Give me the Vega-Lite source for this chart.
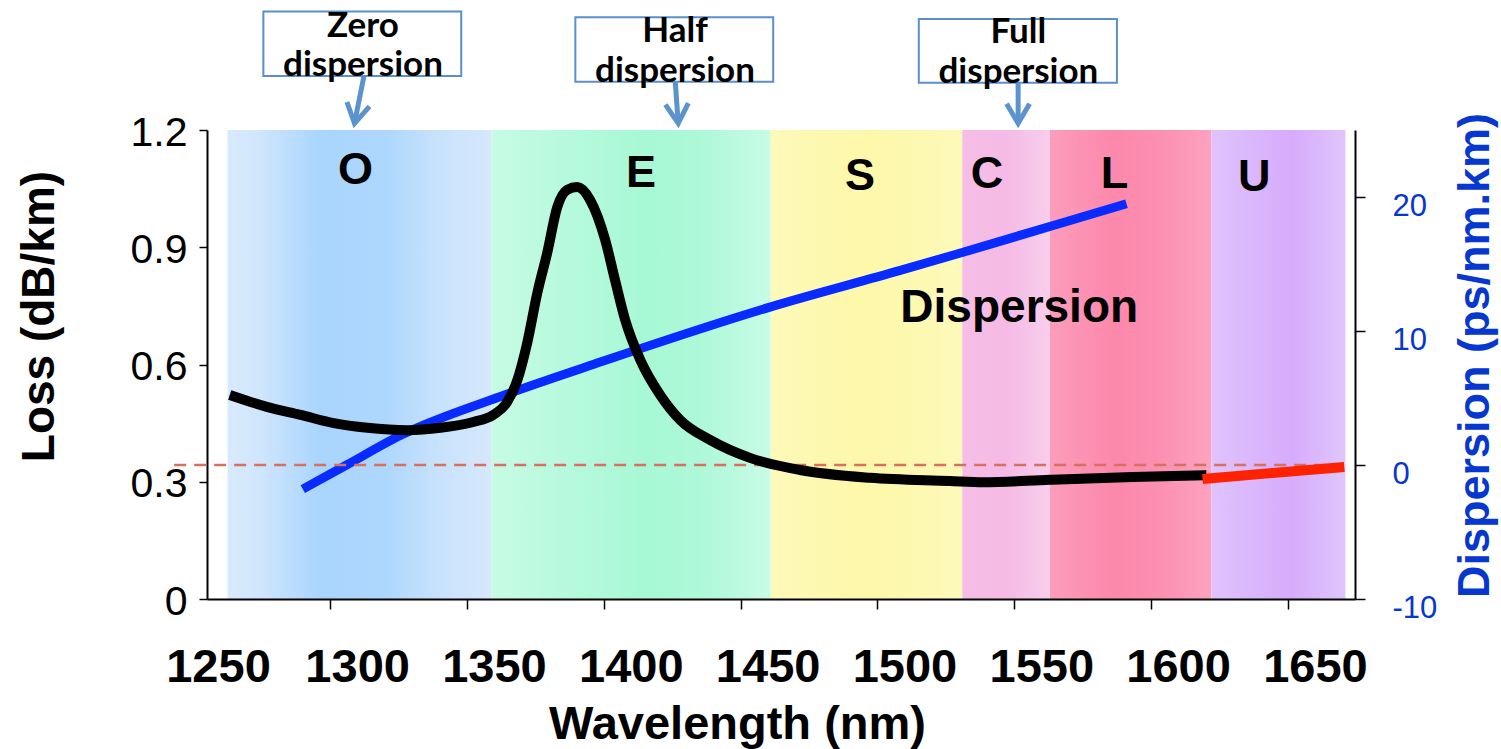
{
  "$schema": "https://vega.github.io/schema/vega-lite/v6.json",
  "width": 1148,
  "height": 469,
  "autosize": {"type": "none"},
  "padding": {"left": 207, "top": 130, "right": 146, "bottom": 150},
  "background": "white",
  "config": {"view": {"stroke": null}, "font": "Liberation Sans"},
  "datasets": {
    "bands": [
      {"band": "O", "start": 1262.5, "end": 1359},
      {"band": "E", "start": 1359, "end": 1461},
      {"band": "S", "start": 1461, "end": 1531},
      {"band": "C", "start": 1531, "end": 1563},
      {"band": "L", "start": 1563, "end": 1622},
      {"band": "U", "start": 1622, "end": 1671}
    ],
    "loss": [
      {"nm": 1263.3, "loss": 0.522}, {"nm": 1277.2, "loss": 0.491}, {"nm": 1289.2, "loss": 0.471},
      {"nm": 1301.3, "loss": 0.45}, {"nm": 1313.6, "loss": 0.438}, {"nm": 1328.2, "loss": 0.432},
      {"nm": 1340.3, "loss": 0.438}, {"nm": 1352.3, "loss": 0.453}, {"nm": 1359.6, "loss": 0.471},
      {"nm": 1364.7, "loss": 0.504}, {"nm": 1368.4, "loss": 0.56}, {"nm": 1372.0, "loss": 0.655},
      {"nm": 1375.7, "loss": 0.783}, {"nm": 1379.3, "loss": 0.885}, {"nm": 1383.0, "loss": 1.003},
      {"nm": 1386.6, "loss": 1.047}, {"nm": 1390.3, "loss": 1.054}, {"nm": 1395.0, "loss": 1.021},
      {"nm": 1400.5, "loss": 0.919}, {"nm": 1404.1, "loss": 0.816}, {"nm": 1407.8, "loss": 0.714},
      {"nm": 1413.3, "loss": 0.612}, {"nm": 1420.6, "loss": 0.522}, {"nm": 1427.9, "loss": 0.458},
      {"nm": 1438.8, "loss": 0.407}, {"nm": 1453.4, "loss": 0.361}, {"nm": 1471.7, "loss": 0.33},
      {"nm": 1497.2, "loss": 0.31}, {"nm": 1526.4, "loss": 0.302}, {"nm": 1538.5, "loss": 0.299},
      {"nm": 1563.0, "loss": 0.305}, {"nm": 1593.3, "loss": 0.312}, {"nm": 1620.2, "loss": 0.317}
    ],
    "ext": [
      {"nm": 1618.8, "loss": 0.307}, {"nm": 1670.6, "loss": 0.338}
    ],
    "disp": [
      {"nm": 1290, "d": -1.8}, {"nm": 1306, "d": 0}, {"nm": 1325.6, "d": 2.2},
      {"nm": 1362, "d": 5.1}, {"nm": 1399, "d": 7.7}, {"nm": 1461, "d": 11.8},
      {"nm": 1508, "d": 14.5}, {"nm": 1530, "d": 15.8}, {"nm": 1563, "d": 17.8},
      {"nm": 1591, "d": 19.5}
    ],
    "zero": [{"from": 1243, "to": 1668.5, "d": 0}],
    "bandLabels": [
      {"label": "O", "nm": 1309.3, "loss": 1.062},
      {"label": "E", "nm": 1413.6, "loss": 1.054},
      {"label": "S", "nm": 1493.6, "loss": 1.047},
      {"label": "C", "nm": 1540, "loss": 1.052},
      {"label": "L", "nm": 1586.6, "loss": 1.052},
      {"label": "U", "nm": 1637.7, "loss": 1.044}
    ],
    "curveLabel": [{"label": "Dispersion", "nm": 1551.8, "loss": 0.709}],
    "notes": [
      {"name": "Zero", "line1": "Zero", "line2": "dispersion", "bx1": 1275.6, "bx2": 1347.9, "by1": 1.503, "by2": 1.338, "tx": 1312, "t1": 1.439, "t2": 1.338, "ax1": 1312.3, "ay1": 1.336, "ax2": 1308.9, "ay2": 1.217},
      {"name": "Half", "line1": "Half", "line2": "dispersion", "bx1": 1389.6, "bx2": 1461.9, "by1": 1.4885, "by2": 1.3237, "tx": 1426, "t1": 1.426, "t2": 1.323, "ax1": 1426.1, "ay1": 1.324, "ax2": 1427.2, "ay2": 1.217},
      {"name": "Full", "line1": "Full", "line2": "dispersion", "bx1": 1515.1, "bx2": 1587.5, "by1": 1.484, "by2": 1.321, "tx": 1551.5, "t1": 1.422, "t2": 1.319, "ax1": 1551.4, "ay1": 1.32, "ax2": 1551.4, "ay2": 1.217}
    ]
  },
  "layer": [
    {
      "data": {"name": "bands"},
      "transform": [{"filter": "datum.band === 'O'"}],
      "mark": {"type": "rect", "fill": {"gradient": "linear", "x1": 0, "y1": 0, "x2": 1, "y2": 0, "stops": [
        {"offset": 0, "color": "#D8EAFD"}, {"offset": 0.12, "color": "#D0E6FD"}, {"offset": 0.35, "color": "#A9D5FD"},
        {"offset": 0.6, "color": "#AED7FD"}, {"offset": 0.8, "color": "#C8E2FC"}, {"offset": 1, "color": "#D6E8FC"}]}},
      "encoding": {
        "x": {"field": "start", "type": "quantitative", "scale": {"domain": [1255, 1674.5], "nice": false, "zero": false},
          "axis": {"orient": "bottom", "values": [1255, 1300, 1350, 1400, 1450, 1500, 1550, 1600, 1650], "grid": false,
            "labelExpr": "datum.value < 1260 ? '1250' : format(datum.value, 'd')",
            "domainColor": "black", "domainWidth": 2, "tickColor": "black", "tickWidth": 1.5, "tickSize": 10,
            "tickOpacity": {"condition": {"test": "datum.value < 1260", "value": 0}, "value": 1},
            "labelFont": "Liberation Sans", "labelFontSize": 47, "labelFontWeight": "bold", "labelColor": "black",
            "labelBaseline": "alphabetic", "labelPadding": 72,
            "labelOffset": {"condition": {"test": "datum.value < 1260", "value": 11}, "value": 27},
            "labelOverlap": false, "labelFlush": false, "labelBound": false,
            "title": "Wavelength (nm)", "titleFont": "Liberation Sans", "titleFontSize": 47, "titleFontWeight": "bold", "titleColor": "black",
            "titleX": 530, "titleY": 139, "titleAlign": "center", "titleBaseline": "alphabetic", "zindex": 1}},
        "x2": {"field": "end"}
      }
    },
    {
      "data": {"name": "bands"},
      "transform": [{"filter": "datum.band === 'E'"}],
      "mark": {"type": "rect", "fill": {"gradient": "linear", "x1": 0, "y1": 0, "x2": 1, "y2": 0, "stops": [
        {"offset": 0, "color": "#C6FBE4"}, {"offset": 0.55, "color": "#A7F8D5"}, {"offset": 0.75, "color": "#AEF8D8"}, {"offset": 1, "color": "#C8FBE6"}]}},
      "encoding": {
        "x": {"field": "start", "type": "quantitative", "axis": null},
        "x2": {"field": "end"}
      }
    },
    {
      "data": {"name": "bands"},
      "transform": [{"filter": "datum.band === 'S'"}],
      "mark": {"type": "rect", "fill": {"gradient": "linear", "x1": 0, "y1": 0, "x2": 1, "y2": 0, "stops": [
        {"offset": 0, "color": "#FDF9B9"}, {"offset": 0.5, "color": "#FDF8A9"}, {"offset": 1, "color": "#FDF9B9"}]}},
      "encoding": {
        "x": {"field": "start", "type": "quantitative", "axis": null},
        "x2": {"field": "end"}
      }
    },
    {
      "data": {"name": "bands"},
      "transform": [{"filter": "datum.band === 'C'"}],
      "mark": {"type": "rect", "fill": {"gradient": "linear", "x1": 0, "y1": 0, "x2": 1, "y2": 0, "stops": [
        {"offset": 0, "color": "#F5BEE6"}, {"offset": 0.5, "color": "#F5BAE5"}, {"offset": 1, "color": "#F8CEEC"}]}},
      "encoding": {
        "x": {"field": "start", "type": "quantitative", "axis": null},
        "x2": {"field": "end"}
      }
    },
    {
      "data": {"name": "bands"},
      "transform": [{"filter": "datum.band === 'L'"}],
      "mark": {"type": "rect", "fill": {"gradient": "linear", "x1": 0, "y1": 0, "x2": 1, "y2": 0, "stops": [
        {"offset": 0, "color": "#FC9DBB"}, {"offset": 0.4, "color": "#FC88AC"}, {"offset": 0.7, "color": "#FC90B2"}, {"offset": 1, "color": "#FCA3C0"}]}},
      "encoding": {
        "x": {"field": "start", "type": "quantitative", "axis": null},
        "x2": {"field": "end"}
      }
    },
    {
      "data": {"name": "bands"},
      "transform": [{"filter": "datum.band === 'U'"}],
      "mark": {"type": "rect", "fill": {"gradient": "linear", "x1": 0, "y1": 0, "x2": 1, "y2": 0, "stops": [
        {"offset": 0, "color": "#DFC3FC"}, {"offset": 0.6, "color": "#D6ABFC"}, {"offset": 1, "color": "#E0C6FC"}]}},
      "encoding": {
        "x": {"field": "start", "type": "quantitative", "axis": null},
        "x2": {"field": "end"}
      }
    },
    {
      "data": {"name": "disp"},
      "mark": {"type": "line", "color": "#0A2BFF", "strokeWidth": 9, "interpolate": "monotone", "strokeCap": "butt"},
      "encoding": {
        "x": {"field": "nm", "type": "quantitative", "axis": null},
        "y": {"field": "d", "type": "quantitative", "scale": {"domain": [-10, 25], "nice": false, "zero": false},
          "axis": {"orient": "right", "values": [-10, 0, 10, 20], "grid": false,
            "labelExpr": "datum.value < 0 ? '-' + abs(datum.value) : '' + datum.value",
            "domainColor": "black", "domainWidth": 2, "tickColor": "black", "tickWidth": 1.5, "tickSize": 10,
            "labelFont": "Liberation Sans", "labelFontSize": 31, "labelColor": "#0637CF", "labelPadding": 27, "labelOffset": 9, "labelAlign": "left",
            "title": "Dispersion (ps/nm.km)", "titleFont": "Liberation Sans", "titleFontSize": 45, "titleFontWeight": "bold", "titleColor": "#0637CF",
            "titleAngle": -90, "titleX": 133, "titleY": 225, "titleAlign": "center", "titleBaseline": "alphabetic"}}
      }
    },
    {
      "data": {"name": "zero"},
      "mark": {"type": "rule", "color": "#D9705F", "strokeWidth": 2.5, "strokeDash": [12, 8]},
      "encoding": {
        "x": {"field": "from", "type": "quantitative", "axis": null},
        "x2": {"field": "to"},
        "y": {"field": "d", "type": "quantitative", "scale": {"domain": [-10, 25], "nice": false, "zero": false}, "axis": null}
      }
    },
    {
      "data": {"name": "loss"},
      "mark": {"type": "line", "color": "#000000", "strokeWidth": 10, "interpolate": "monotone", "strokeCap": "butt", "strokeJoin": "round"},
      "encoding": {
        "x": {"field": "nm", "type": "quantitative", "axis": null},
        "y": {"field": "loss", "type": "quantitative", "scale": {"domain": [0, 1.2], "nice": false, "zero": false},
          "axis": {"orient": "left", "values": [0, 0.3, 0.6, 0.9, 1.2], "grid": false,
            "labelExpr": "datum.value == 0 ? '0' : format(datum.value, '.1f')",
            "domainColor": "black", "domainWidth": 2, "tickColor": "black", "tickWidth": 1.5, "tickSize": 8,
            "labelFont": "Liberation Sans", "labelFontSize": 41, "labelColor": "black", "labelPadding": 12, "labelOffset": 3,
            "title": "Loss (dB/km)", "titleFont": "Liberation Sans", "titleFontSize": 46, "titleFontWeight": "bold", "titleColor": "black",
            "titleAngle": -90, "titleX": -154, "titleY": 186, "titleAlign": "center", "titleBaseline": "alphabetic"}}
      }
    },
    {
      "data": {"name": "ext"},
      "mark": {"type": "line", "color": "#FF2200", "strokeWidth": 10, "strokeCap": "butt"},
      "encoding": {
        "x": {"field": "nm", "type": "quantitative", "axis": null},
        "y": {"field": "loss", "type": "quantitative", "scale": {"domain": [0, 1.2], "nice": false, "zero": false}, "axis": null}
      }
    },
    {
      "data": {"name": "bandLabels"},
      "mark": {"type": "text", "font": "Liberation Sans", "fontSize": 45, "fontWeight": "bold", "color": "black", "align": "center", "baseline": "alphabetic"},
      "encoding": {
        "x": {"field": "nm", "type": "quantitative", "axis": null},
        "y": {"field": "loss", "type": "quantitative", "scale": {"domain": [0, 1.2], "nice": false, "zero": false}, "axis": null},
        "text": {"field": "label"}
      }
    },
    {
      "data": {"name": "curveLabel"},
      "mark": {"type": "text", "font": "Liberation Sans", "fontSize": 46, "fontWeight": "bold", "color": "black", "align": "center", "baseline": "alphabetic"},
      "encoding": {
        "x": {"field": "nm", "type": "quantitative", "axis": null},
        "y": {"field": "loss", "type": "quantitative", "scale": {"domain": [0, 1.2], "nice": false, "zero": false}, "axis": null},
        "text": {"field": "label"}
      }
    },
    {
      "data": {"name": "notes"},
      "mark": {"type": "rect", "fill": "white", "stroke": "#5B8FCB", "strokeWidth": 2},
      "encoding": {
        "x": {"field": "bx1", "type": "quantitative", "axis": null},
        "x2": {"field": "bx2"},
        "y": {"field": "by1", "type": "quantitative", "scale": {"domain": [0, 1.2], "nice": false, "zero": false}, "axis": null},
        "y2": {"field": "by2"}
      }
    },
    {
      "data": {"name": "notes"},
      "mark": {"type": "rule", "color": "#5B93CC", "strokeWidth": 5},
      "encoding": {
        "x": {"field": "ax1", "type": "quantitative", "axis": null},
        "x2": {"field": "ax2"},
        "y": {"field": "ay1", "type": "quantitative", "scale": {"domain": [0, 1.2], "nice": false, "zero": false}, "axis": null},
        "y2": {"field": "ay2"}
      }
    },
    {
      "data": {"name": "notes"},
      "mark": {"type": "point", "shape": "M -1 -1.7 L 0 0 L 1 -1.7", "filled": false, "stroke": "#5B93CC", "strokeWidth": 5, "size": 529, "opacity": 1, "strokeJoin": "miter"},
      "encoding": {
        "x": {"field": "ax2", "type": "quantitative", "axis": null},
        "y": {"field": "ay2", "type": "quantitative", "scale": {"domain": [0, 1.2], "nice": false, "zero": false}, "axis": null},
        "angle": {"condition": [{"test": "datum.name === 'Zero'", "value": 11}, {"test": "datum.name === 'Half'", "value": -4}], "value": 0}
      }
    },
    {
      "data": {"name": "notes"},
      "mark": {"type": "text", "font": "Lato", "fontSize": 35, "fontWeight": "bold", "color": "black", "align": "center", "baseline": "alphabetic"},
      "encoding": {
        "x": {"field": "tx", "type": "quantitative", "axis": null},
        "y": {"field": "t1", "type": "quantitative", "scale": {"domain": [0, 1.2], "nice": false, "zero": false}, "axis": null},
        "text": {"field": "line1"}
      }
    },
    {
      "data": {"name": "notes"},
      "mark": {"type": "text", "font": "Lato", "fontSize": 35, "fontWeight": "bold", "color": "black", "align": "center", "baseline": "alphabetic"},
      "encoding": {
        "x": {"field": "tx", "type": "quantitative", "axis": null},
        "y": {"field": "t2", "type": "quantitative", "scale": {"domain": [0, 1.2], "nice": false, "zero": false}, "axis": null},
        "text": {"field": "line2"}
      }
    }
  ],
  "resolve": {"scale": {"y": "independent"}, "axis": {"x": "independent"}}
}
